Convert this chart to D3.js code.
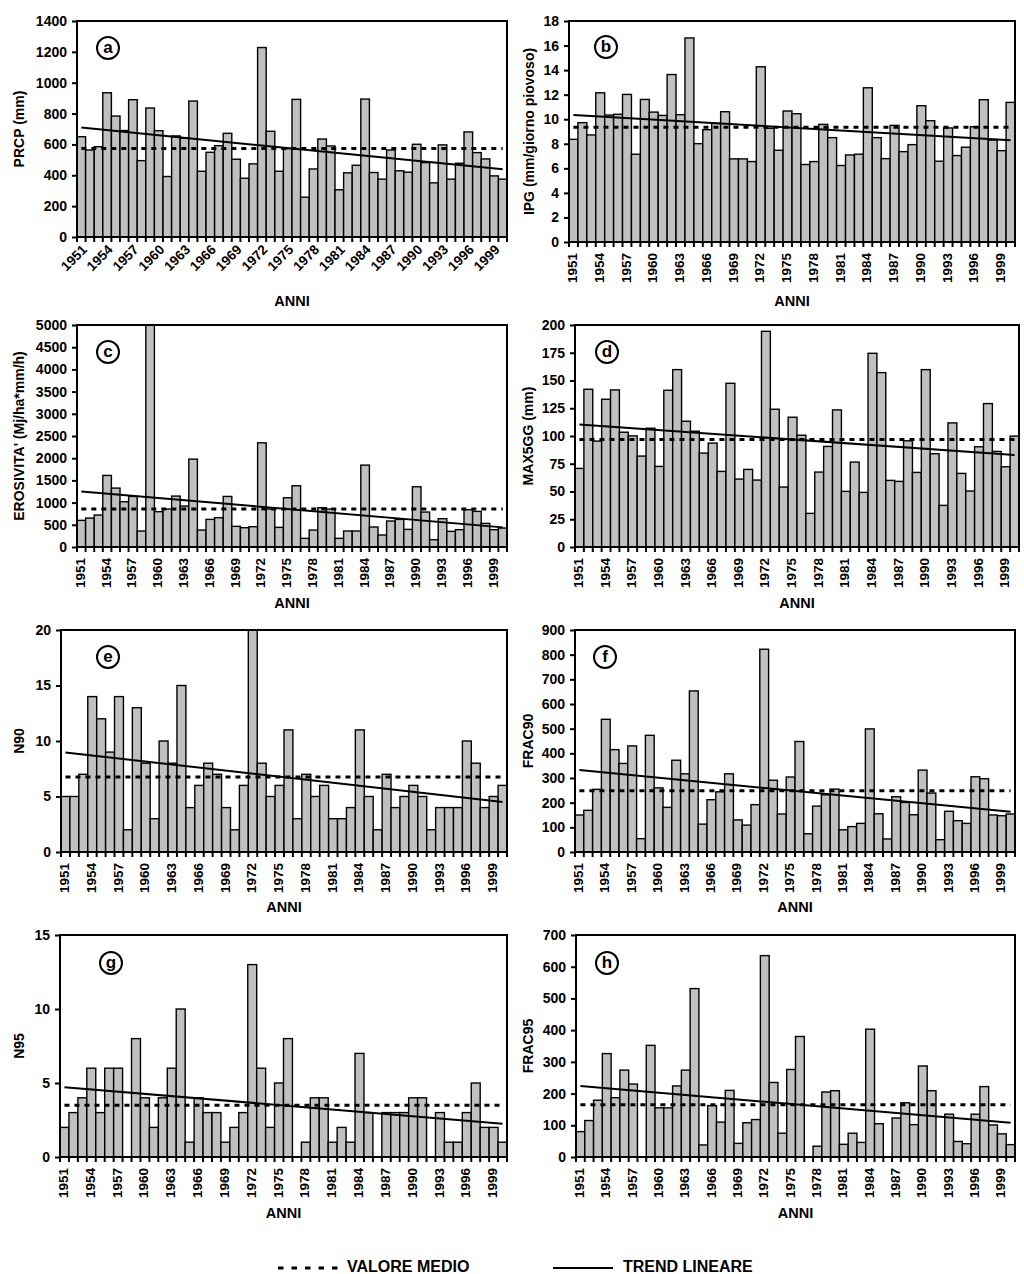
<!DOCTYPE html>
<html>
<head>
<meta charset="utf-8">
<script src="https://cdn.jsdelivr.net/npm/d3@7"></script>
<style>
  body { margin: 0; background: #fff; }
  svg text { font-family: "Liberation Sans", Arial, sans-serif; font-weight: bold; fill: #000; }
</style>
</head>
<body>
<svg id="chart" width="1024" height="1274"></svg>
<script>
// years on the x axis and the labelled ones
var years = d3.range(1951, 2001);
var tickYears = [1951, 1954, 1957, 1960, 1963, 1966, 1969, 1972, 1975, 1978, 1981, 1984, 1987, 1990, 1993, 1996, 1999];

// series (one per panel)
var prcp = [650, 564, 585, 935, 784, 690, 890, 495, 836, 689, 392, 655, 640, 881, 426, 549, 592, 672, 504, 381,
            474, 1228, 685, 426, 573, 892, 258, 441, 635, 590, 306, 416, 465, 894, 418, 375, 564, 429, 420, 601,
            482, 351, 597, 375, 478, 681, 547, 506, 396, 375];
var ipg = [8.36, 9.72, 8.72, 12.15, 10.34, 10.4, 12.02, 7.15, 11.61, 10.58, 10.31, 13.64, 10.37, 16.62, 8.01, 9.15, 9.66, 10.61, 6.77, 6.77,
           6.55, 14.27, 9.26, 7.47, 10.67, 10.45, 6.31, 6.55, 9.58, 8.5, 6.23, 7.09, 7.15, 12.56, 8.5, 6.79, 9.5, 7.36, 7.93, 11.1,
           9.88, 6.58, 9.29, 7.04, 7.72, 9.39, 11.59, 8.31, 7.44, 11.37];
var erosivita = [600, 652, 720, 1612, 1327, 1019, 1139, 360, 5000, 795, 855, 1147, 922, 1979, 382, 622, 660, 1139, 465, 435,
                 457, 2346, 855, 442, 1109, 1379, 195, 382, 884, 855, 195, 360, 360, 1844, 450, 270, 585, 622, 397, 1357,
                 787, 165, 637, 352, 390, 840, 802, 532, 390, 427];
var max5gg = [70.8, 142.1, 95.4, 133.1, 141.5, 103.4, 100.1, 81.9, 107, 72.6, 141.2, 159.8, 113.3, 104.3, 84.6, 93.6, 68.1, 147.5, 61.2, 69.9,
              60.3, 194.3, 124.1, 54, 116.9, 100.7, 30.3, 67.5, 90.6, 123.5, 50.1, 76.5, 49.2, 174.5, 157.1, 60, 59.1, 95.7, 67.2, 159.8,
              84, 37.5, 111.8, 66.3, 50.4, 90.3, 129.2, 86.1, 72.3, 99.9];
var n90 = [5, 5, 7, 14, 12, 9, 14, 2, 13, 8, 3, 10, 8, 15, 4, 6, 8, 7, 4, 2,
           6, 20, 8, 5, 6, 11, 3, 7, 5, 6, 3, 3, 4, 11, 5, 2, 7, 4, 5, 6,
           5, 2, 4, 4, 4, 10, 8, 4, 5, 6];
var frac90 = [150, 169, 254, 538, 415, 359, 430, 54, 473, 260, 181, 372, 317, 653, 113, 212, 244, 317, 130, 109,
              192, 822, 291, 154, 304, 448, 74, 186, 232, 255, 90, 103, 116, 499, 155, 53, 224, 201, 151, 332,
              239, 50, 165, 127, 116, 305, 297, 150, 147, 154];
var n95 = [2, 3, 4, 6, 3, 6, 6, 0, 8, 4, 2, 4, 6, 10, 1, 4, 3, 3, 1, 2,
           3, 13, 6, 2, 5, 8, 0, 1, 4, 4, 1, 2, 1, 7, 3, 0, 3, 3, 3, 4,
           4, 0, 3, 1, 1, 3, 5, 2, 2, 1];
var frac95 = [80, 115, 179, 326, 187, 274, 230, 0, 352, 155, 155, 224, 274, 531, 38, 162, 110, 210, 43, 108,
              118, 635, 235, 75, 276, 380, 0, 34, 205, 209, 40, 75, 46, 403, 105, 0, 123, 171, 102, 287,
              209, 0, 135, 49, 42, 135, 222, 101, 73, 39];

var panelSeries = [prcp, ipg, erosivita, max5gg, n90, frac90, n95, frac95];
var panelLetters = ["a", "b", "c", "d", "e", "f", "g", "h"];
var yLabels = ["PRCP (mm)", "IPG (mm/giorno piovoso)", "EROSIVITA' (Mj/ha*mm/h)", "MAX5GG (mm)",
               "N90", "FRAC90", "N95", "FRAC95"];
var yMax = [1400, 18, 5000, 200, 20, 900, 15, 700];
var yStep = [200, 2, 500, 25, 5, 100, 5, 100];
// mean (dashed) and linear trend (solid)
var meanValues = [573, 9.34, 855, 96.9, 6.75, 248, 3.5, 165];
var trendStart = [709, 10.34, 1252, 110.3, 8.97, 332, 4.72, 224];
var trendEnd = [439, 8.28, 442, 82.8, 4.5, 163, 2.25, 108];

// plot boxes
var layout = [
    { left: 77, right: 507, top: 21, bottom: 237, rot: -45, yLabX: 20, annY: 302, cx: 108, cy: 48 },
    { left: 569, right: 1015, top: 21, bottom: 242, rot: -90, yLabX: 530, annY: 302, cx: 606, cy: 47 },
    { left: 77, right: 507, top: 325, bottom: 547, rot: -90, yLabX: 20, annY: 604, cx: 108, cy: 352 },
    { left: 575, right: 1019, top: 325, bottom: 547, rot: -90, yLabX: 529, annY: 604, cx: 607, cy: 352 },
    { left: 61, right: 507, top: 630, bottom: 852, rot: -90, yLabX: 20, annY: 908, cx: 108, cy: 657 },
    { left: 575, right: 1015, top: 630, bottom: 852, rot: -90, yLabX: 529, annY: 908, cx: 605, cy: 657 },
    { left: 60, right: 507, top: 935, bottom: 1157, rot: -90, yLabX: 20, annY: 1214, cx: 111, cy: 963 },
    { left: 576, right: 1015, top: 935, bottom: 1157, rot: -90, yLabX: 529, annY: 1214, cx: 607, cy: 963 }
];

var svg = d3.select("#chart");

panelSeries.forEach(function (series, p) {
    drawPanel(series, p);
});

function drawPanel(series, p) {
    var L = layout[p];
    var g = svg.append("g");

    var x = d3.scaleBand()
        .domain(years)
        .range([L.left, L.right])
        .padding(0);

    var y = d3.scaleLinear()
        .domain([0, yMax[p]])
        .range([L.bottom, L.top]);

    var bw = x.bandwidth();

    // bars
    g.selectAll("rect.bar")
        .data(series)
        .enter().append("rect")
        .attr("class", "bar")
        .attr("x", function (d, i) { return x(years[i]); })
        .attr("width", bw)
        .attr("y", function (d) { return y(d); })
        .attr("height", function (d) { return L.bottom - y(d); })
        .attr("fill", "#c0c0c0")
        .attr("stroke", "#000")
        .attr("stroke-width", 1.4);

    // mean line
    var first = x(years[0]) + bw / 2,
        last = x(years[years.length - 1]) + bw / 2;

    g.append("line")
        .attr("x1", first).attr("x2", last)
        .attr("y1", y(meanValues[p])).attr("y2", y(meanValues[p]))
        .attr("stroke", "#000")
        .attr("stroke-width", 3)
        .attr("stroke-dasharray", "5,5");

    // trend line
    g.append("line")
        .attr("x1", first).attr("x2", last)
        .attr("y1", y(trendStart[p])).attr("y2", y(trendEnd[p]))
        .attr("stroke", "#000")
        .attr("stroke-width", 2);

    // frame
    g.append("rect")
        .attr("x", L.left).attr("y", L.top)
        .attr("width", L.right - L.left).attr("height", L.bottom - L.top)
        .attr("fill", "none")
        .attr("stroke", "#000")
        .attr("stroke-width", 2);

    // y axis
    var yAxis = g.append("g")
        .attr("transform", "translate(" + L.left + ",0)")
        .call(d3.axisLeft(y)
            .tickValues(d3.range(0, yMax[p] + yStep[p] / 2, yStep[p]))
            .tickFormat(d3.format("d"))
            .tickSize(5)
            .tickPadding(5)
            .tickSizeOuter(0));
    yAxis.select(".domain").remove();
    yAxis.selectAll("line").attr("stroke", "#000").attr("stroke-width", 2);
    yAxis.selectAll("text").style("font-size", "14px").attr("fill", "#000");

    // x tick marks at bar boundaries
    var bounds = years.map(function (yr) { return x(yr); }).concat([L.right]);
    g.selectAll("line.xt")
        .data(bounds)
        .enter().append("line")
        .attr("class", "xt")
        .attr("x1", function (d) { return d; })
        .attr("x2", function (d) { return d; })
        .attr("y1", L.bottom)
        .attr("y2", L.bottom + 5)
        .attr("stroke", "#000")
        .attr("stroke-width", 2);

    // x tick labels
    var xAxis = g.append("g")
        .attr("transform", "translate(0," + L.bottom + ")")
        .call(d3.axisBottom(x).tickValues(tickYears).tickSize(0));
    xAxis.select(".domain").remove();
    if (L.rot === -45) {
        xAxis.selectAll("text")
            .style("font-size", "13.5px")
            .attr("text-anchor", "end")
            .attr("dy", null)
            .attr("y", null)
            .attr("transform", "translate(4,11) rotate(-45)")
            .attr("dominant-baseline", "middle");
    } else {
        xAxis.selectAll("text")
            .style("font-size", "13.5px")
            .attr("text-anchor", "end")
            .attr("dy", null)
            .attr("y", null)
            .attr("transform", "translate(0,11) rotate(-90)")
            .attr("dominant-baseline", "middle");
    }

    // axis titles
    g.append("text")
        .attr("x", (L.left + L.right) / 2)
        .attr("y", L.annY)
        .attr("text-anchor", "middle")
        .attr("dominant-baseline", "middle")
        .style("font-size", "14.5px")
        .text("ANNI");

    g.append("text")
        .attr("transform", "translate(" + L.yLabX + "," + (L.top + L.bottom) / 2 + ") rotate(-90)")
        .attr("text-anchor", "middle")
        .attr("dominant-baseline", "middle")
        .style("font-size", "14px")
        .text(yLabels[p]);

    // circled letter
    g.append("circle")
        .attr("cx", L.cx).attr("cy", L.cy).attr("r", 11)
        .attr("fill", "none")
        .attr("stroke", "#000")
        .attr("stroke-width", 2);
    g.append("text")
        .attr("x", L.cx).attr("y", L.cy + 1)
        .attr("text-anchor", "middle")
        .attr("dominant-baseline", "middle")
        .style("font-size", "17px")
        .text(panelLetters[p]);
}

// Legend
svg.append("line")
    .attr("x1", 278).attr("x2", 340)
    .attr("y1", 1268).attr("y2", 1268)
    .attr("stroke", "#000")
    .attr("stroke-width", 3)
    .attr("stroke-dasharray", "5.5,8");
svg.append("text")
    .attr("x", 347).attr("y", 1268)
    .attr("dominant-baseline", "middle")
    .style("font-size", "16px")
    .text("VALORE MEDIO");

svg.append("line")
    .attr("x1", 553).attr("x2", 613)
    .attr("y1", 1268).attr("y2", 1268)
    .attr("stroke", "#000")
    .attr("stroke-width", 2);
svg.append("text")
    .attr("x", 623).attr("y", 1268)
    .attr("dominant-baseline", "middle")
    .style("font-size", "16px")
    .text("TREND LINEARE");
</script>
</body>
</html>
